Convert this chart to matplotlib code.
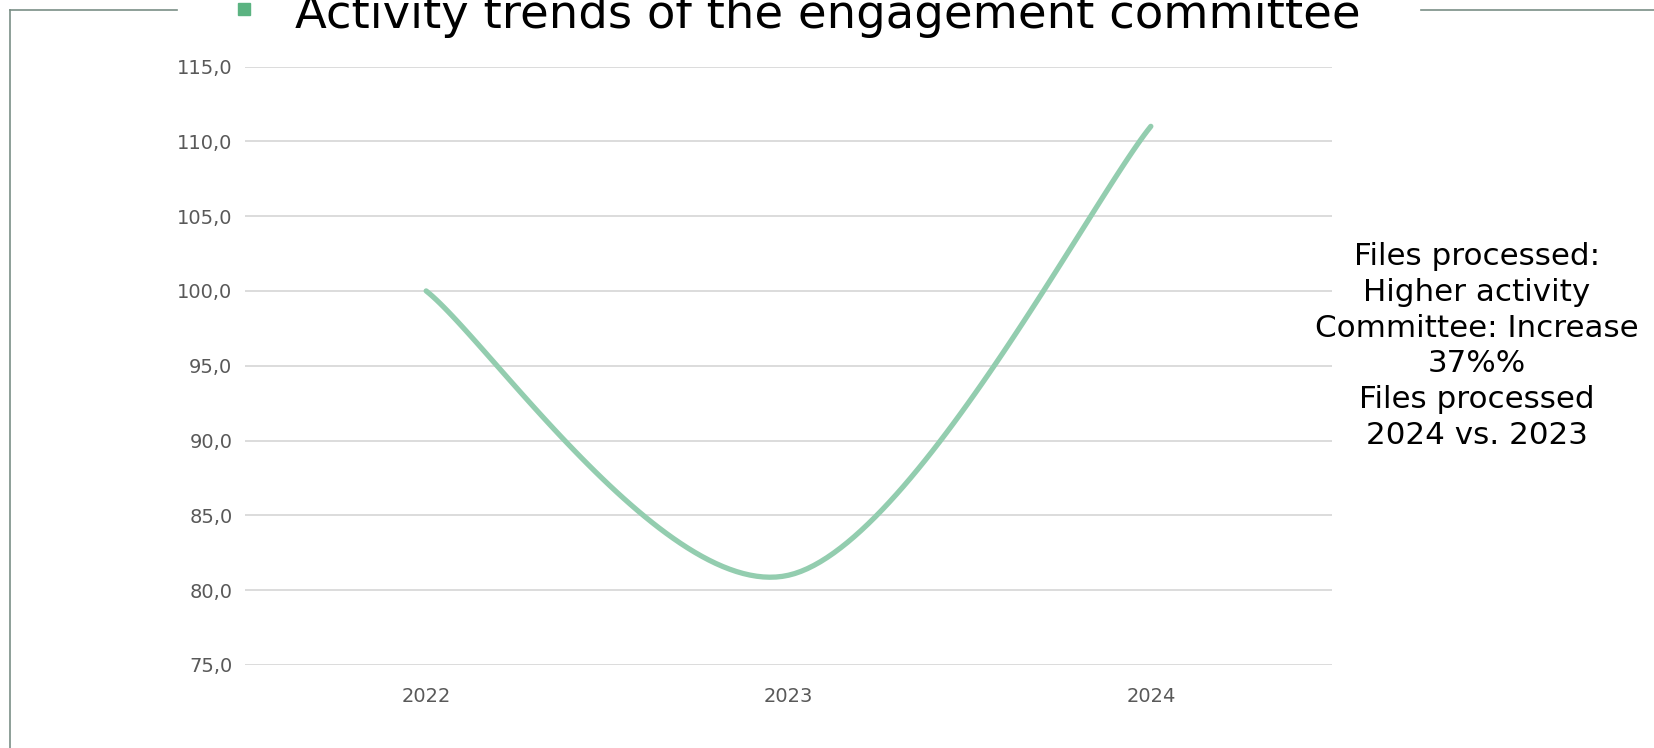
import matplotlib
matplotlib.use("Agg")
import matplotlib.pyplot as plt
import numpy as np
from matplotlib.lines import Line2D
from matplotlib.patches import Rectangle

# data
years = ["2022", "2023", "2024"]
values = [100.0, 81.0, 111.0]
y_ticks = [75, 80, 85, 90, 95, 100, 105, 110, 115]
title = "Activity trends of the engagement committee"
note = ("Files processed:\nHigher activity\nCommittee: Increase\n37%%\n"
        "Files processed\n2024 vs. 2023")

plt.rcParams["font.family"] = ["DejaVu Sans"]

W, H = 1654, 748
fig = plt.figure(figsize=(W / 100, H / 100), dpi=100)


def smooth(xs, ys, n=60):
    """Catmull-Rom style bezier through the points (like office smoothed lines)."""
    pts = np.column_stack([xs, ys]).astype(float)
    ext = np.vstack([pts[0], pts, pts[-1]])
    out = []
    for i in range(len(pts) - 1):
        p0, p1, p2, p3 = ext[i], ext[i + 1], ext[i + 2], ext[i + 3]
        c1 = p1 + (p2 - p0) / 6
        c2 = p2 - (p3 - p1) / 6
        t = np.linspace(0, 1, n)[:, None]
        seg = ((1 - t) ** 3 * p1 + 3 * (1 - t) ** 2 * t * c1
               + 3 * (1 - t) * t ** 2 * c2 + t ** 3 * p2)
        out.append(seg if i == 0 else seg[1:])
    out = np.vstack(out)
    return out[:, 0], out[:, 1]


# plot area
left, right = 245 / W, 1332 / W
bottom, top = 1 - 665 / H, 1 - 66.5 / H
ax = fig.add_axes([left, bottom, right - left, top - bottom])

x = np.arange(len(years))
# smooth in screen-like proportions so the curve shape follows the drawn aspect
sx, sy = smooth(x * 362.0, np.array(values) * 14.95)
ax.plot(sx / 362.0, sy / 14.95, color="#93CDAF", lw=3.8,
        solid_capstyle="round", zorder=3)

ax.set_xlim(-0.5, 2.5)
ax.set_ylim(75, 115)
ax.set_xticks(x)
ax.set_xticklabels(years)
ax.set_yticks(y_ticks)
ax.set_yticklabels([f"{v:.1f}".replace(".", ",") for v in y_ticks])
ax.tick_params(length=0, labelsize=14, colors="#595959")
ax.tick_params(axis="y", pad=9)
ax.tick_params(axis="x", pad=16)
ax.grid(axis="y", color="#D9D9D9", lw=1.3)
ax.set_axisbelow(True)
for s in ax.spines.values():
    s.set_visible(False)

# title with square bullet (runs off the top edge on purpose)
fig.text(295 / W, 1 - 28 / H, title, fontsize=33.5, color="black",
         va="baseline", ha="left")
fig.add_artist(Rectangle((238 / W, 1 - 15 / H), 12 / W, 12 / H,
                         transform=fig.transFigure, color="#5BB381"))

# frame lines
frame_c = "#7A8F86"
fig.add_artist(Line2D([9.5 / W, 9.5 / W], [0, 1 - 9.5 / H], color=frame_c, lw=1.2))
fig.add_artist(Line2D([9.5 / W, 177 / W], [1 - 9.5 / H, 1 - 9.5 / H], color=frame_c, lw=1.2))
fig.add_artist(Line2D([1421 / W, 1], [1 - 9.5 / H, 1 - 9.5 / H], color=frame_c, lw=1.2))

# side note
fig.text(1477 / W, 1 - 346 / H, note, fontsize=22.3, color="black",
         ha="center", va="center", linespacing=1.3)

fig.savefig("out.png", dpi=100)
